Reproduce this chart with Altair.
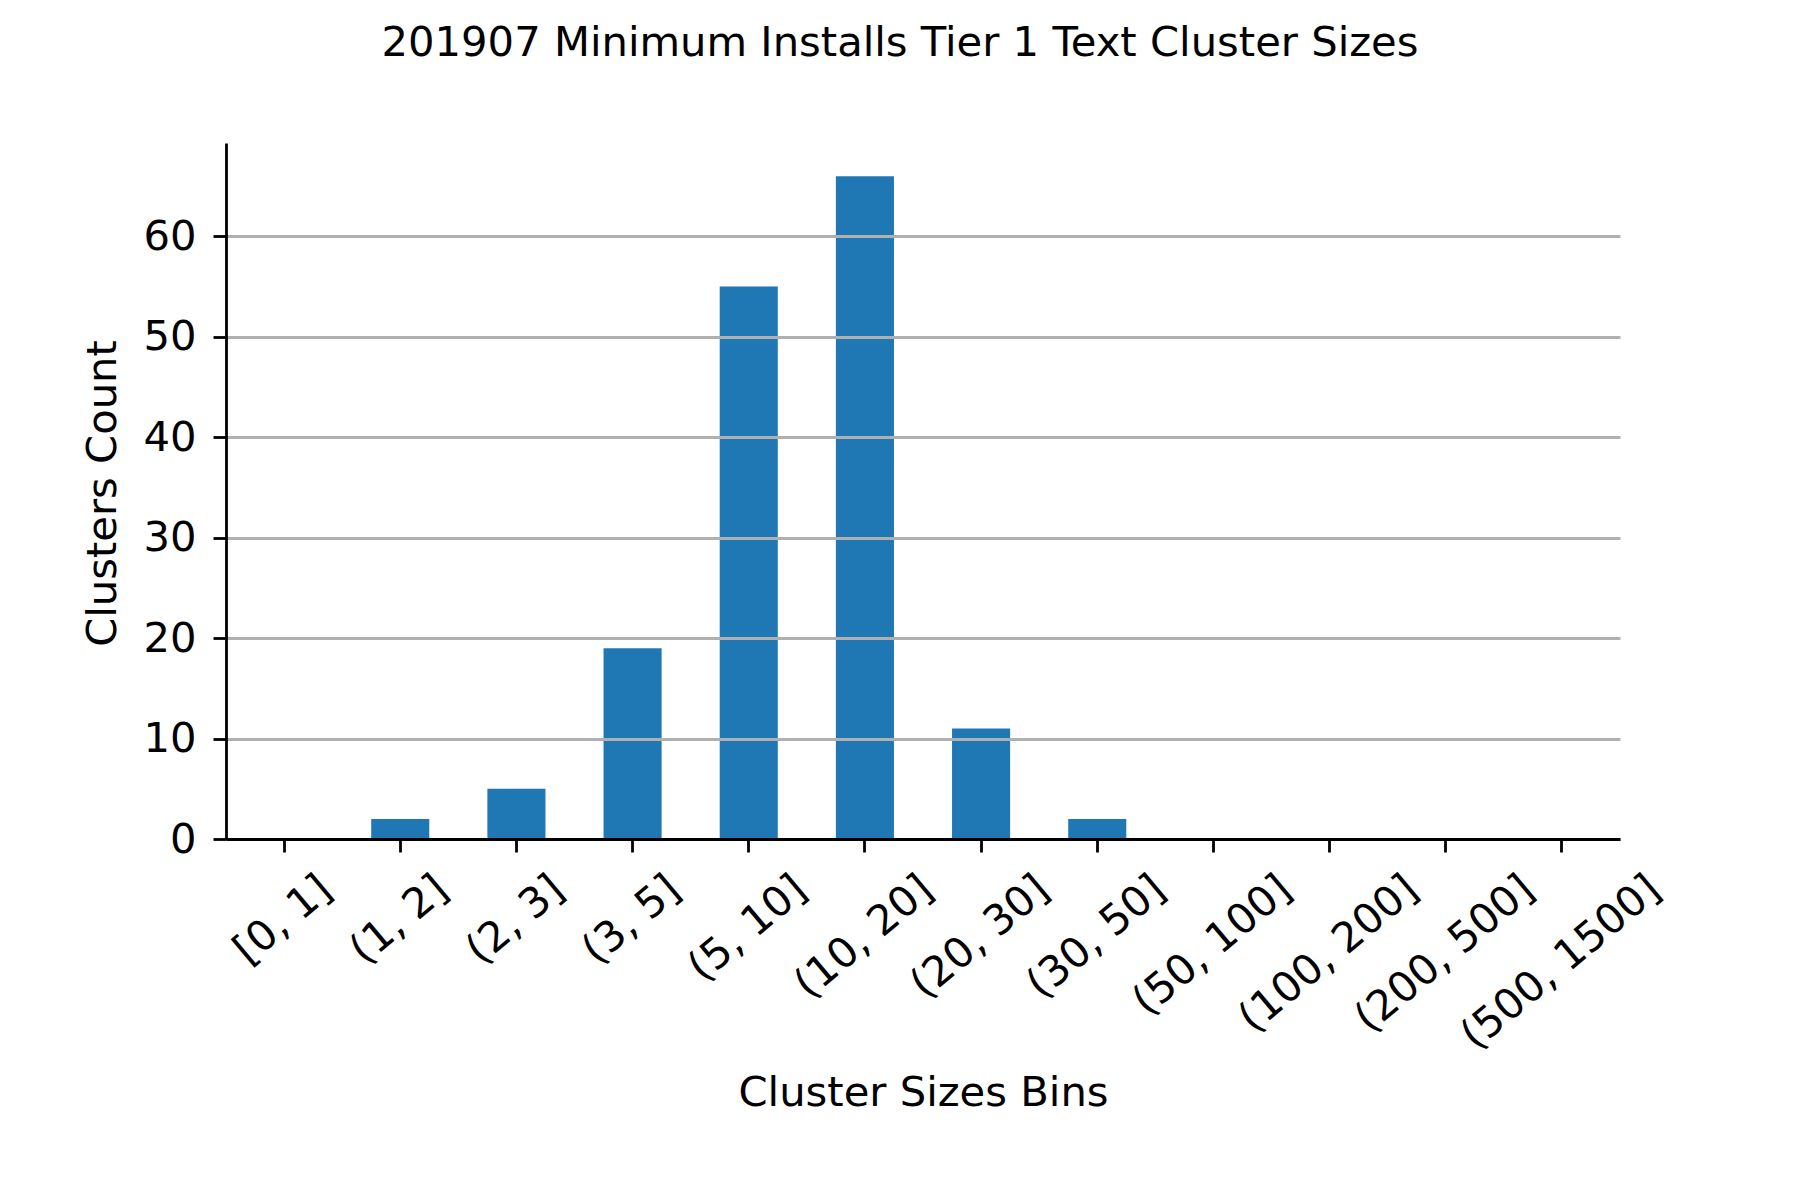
import altair as alt
import pandas as pd

# ---- data ----
bins = ["[0, 1]", "(1, 2]", "(2, 3]", "(3, 5]", "(5, 10]", "(10, 20]",
        "(20, 30]", "(30, 50]", "(50, 100]", "(100, 200]", "(200, 500]", "(500, 1500]"]
counts = [0, 2, 5, 19, 55, 66, 11, 2, 0, 0, 0, 0]
y_ticks = [0, 10, 20, 30, 40, 50, 60]

title_text = "201907 Minimum Installs Tier 1 Text Cluster Sizes"
x_title = "Cluster Sizes Bins"
y_title = "Clusters Count"

# ---- styling ----
W, H = 1394, 696
FONT = "DejaVu Sans"
TITLE_FS = 41.7
AXTITLE_FS = 41.7
XLAB_FS = 41.7
YLAB_FS = 41.7
BLUE = "#1f77b4"
LW = 2.8

df = pd.DataFrame({"bin": bins, "count": counts})
xscale = alt.Scale(domain=bins, paddingInner=0.5, paddingOuter=0.25)

base = alt.Chart(df)

bars = base.mark_bar(color=BLUE).encode(
    x=alt.X("bin:N", sort=bins, scale=xscale,
            axis=alt.Axis(labels=False, ticks=True, tickSize=13, tickWidth=LW,
                          tickColor="black", domainColor="black", domainWidth=LW,
                          grid=False, title=x_title, titleFont=FONT,
                          titleFontSize=AXTITLE_FS, titleFontWeight="normal",
                          titleColor="black", titleY=266, titleBaseline="alphabetic",
                          zindex=1)),
    y=alt.Y("count:Q", scale=alt.Scale(domain=[0, 69.3], nice=False, zero=True),
            axis=alt.Axis(values=y_ticks, tickSize=13, tickWidth=LW, tickColor="black",
                          domainColor="black", domainWidth=LW, grid=True,
                          gridColor="#b0b0b0", gridWidth=LW, labelFont=FONT,
                          labelFontSize=YLAB_FS, labelColor="black", labelPadding=17,
                          title=y_title, titleFont=FONT, titleFontSize=AXTITLE_FS,
                          titleFontWeight="normal", titleColor="black",
                          titleX=-111, titleY=350, titleAngle=270,
                          titleBaseline="alphabetic", titleAlign="center",
                          zindex=1)),
)

# rotated category labels (matplotlib style: rotated bbox centred under the tick)
labels = base.transform_calculate(
    off=f"{XLAB_FS}*(1.416+0.636*(length(datum.bin)-4))*0.383-14"
).mark_text(
    angle=320, align="right", baseline="top", font=FONT, fontSize=XLAB_FS,
    color="black",
    dx={"expr": "0.766*datum.off"}, dy={"expr": "0.643*datum.off"},
).encode(
    x=alt.X("bin:N", sort=bins, scale=xscale),
    y=alt.value(H + 29.5),
    text="bin:N",
)

chart = alt.layer(bars, labels).properties(
    width=W, height=H,
    background="white",
    title=alt.TitleParams(title_text, font=FONT, fontSize=TITLE_FS,
                          fontWeight="normal", color="black", anchor="middle",
                          dx=-23, baseline="alphabetic", offset=45),
    autosize=alt.AutoSizeParams(type="none"),
    padding={"left": 218, "top": 135, "right": 172, "bottom": 353},
).configure_view(stroke=None, strokeWidth=0)

chart.save("out.html", embed_options={"renderer": "svg", "actions": False})
